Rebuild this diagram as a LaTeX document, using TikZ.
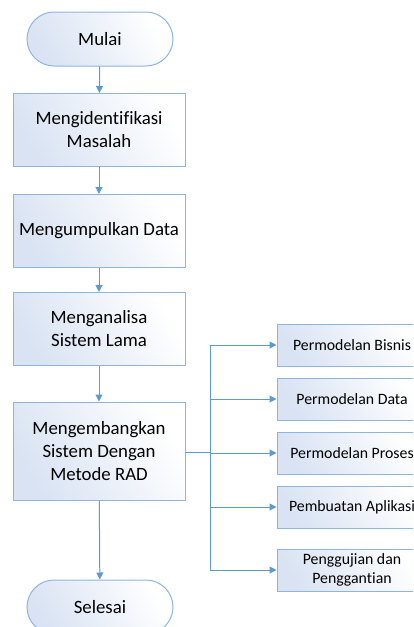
\documentclass[tikz,border=0pt]{standalone}
\usepackage{fontspec}
\setmainfont[Ligatures=CommonOff]{Carlito}
\usetikzlibrary{arrows.meta,positioning}
\definecolor{bordc}{HTML}{8EB4E3}
\definecolor{linec}{HTML}{5B9BD5}
\definecolor{fillc}{HTML}{D9E3F3}
\tikzset{
  base/.style={draw=bordc, line width=1pt, left color=fillc, right color=white, shading angle=120, align=center, text=black, inner sep=0pt},
  procbox/.style={base, minimum width=172pt, minimum height=73pt, font=\fontsize{18.8}{23}\selectfont},
  termbox/.style={base, rounded corners=27pt, minimum width=146pt, minimum height=54pt, font=\fontsize{18.8}{23}\selectfont},
  subbox/.style={base, minimum width=150pt, minimum height=42pt, font=\fontsize{15.8}{19.5}\selectfont},
  flow/.style={draw=linec, line width=1pt, -{Triangle[length=7pt,width=7pt]}},
  link/.style={draw=linec, line width=1pt},
}
\begin{document}
\begin{tikzpicture}[x=1pt,y=-1pt]
\useasboundingbox (0,0) rectangle (413,627);
\clip (0,0) rectangle (413,627);
\node[termbox] (mulai) at (100,39) {Mulai};
\node[procbox] (p1) at (99,130) {Mengidentifikasi\\Masalah};
\node[procbox] (p2) at (99,231) {Mengumpulkan Data};
\node[procbox] (p3) at (99,329) {Menganalisa\\Sistem Lama};
\node[procbox, minimum height=98pt] (p4) at (99,451) {Mengembangkan\\Sistem Dengan\\Metode RAD};
\node[termbox] (selesai) at (100,607) {Selesai};
\node[subbox] (s1) at (352,345) {Permodelan Bisnis};
\node[subbox] (s2) at (352,399) {Permodelan Data};
\node[subbox] (s3) at (352,453) {Permodelan Proses};
\node[subbox] (s4) at (352,507) {Pembuatan Aplikasi};
\node[subbox] (s5) at (352,570) {Penggujian dan\\Penggantian};
\coordinate (j) at (210,452);
\draw[flow] (mulai) -- (p1);
\draw[flow] (p1) -- (p2);
\draw[flow] (p2) -- (p3);
\draw[flow] (p3) -- (p4);
\draw[flow] (p4) -- (selesai);
\draw[link] (p4.east |- j) -- (j);
\foreach \s in {s1,s2,s3,s4,s5}{
  \draw[flow] (j) |- (\s.west);
}
\end{tikzpicture}
\end{document}
